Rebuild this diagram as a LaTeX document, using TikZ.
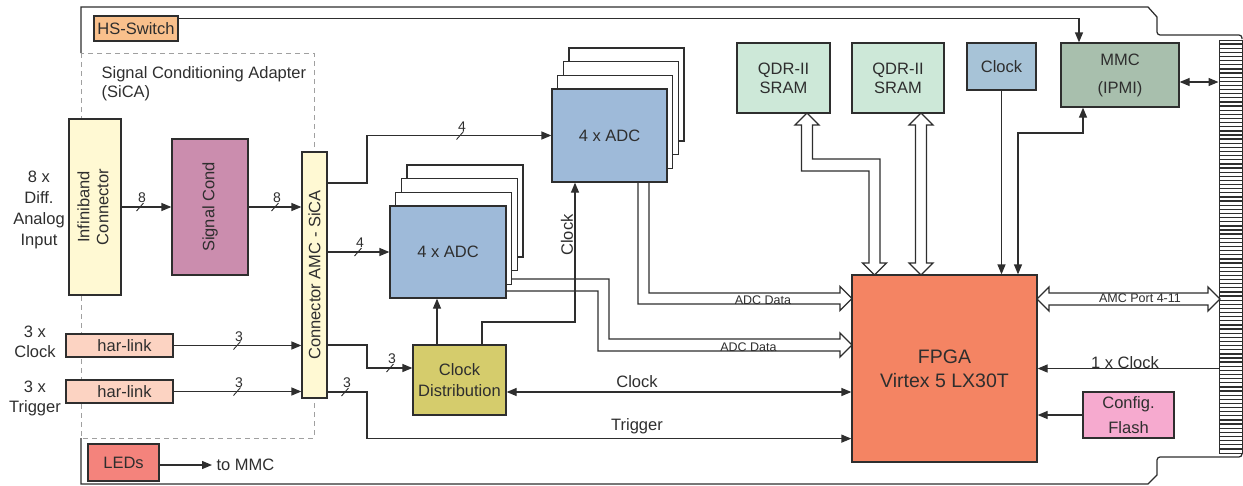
\documentclass[tikz,border=0pt]{standalone}
\usepackage{fontspec}
\usepackage{graphicx}
\setmainfont{Liberation Sans}
\usetikzlibrary{arrows.meta,calc}
\definecolor{ln}{HTML}{2E2E2E}
\definecolor{dashc}{HTML}{A0A0A0}
\definecolor{hsc}{HTML}{F9C08C}
\definecolor{infc}{HTML}{FFF9D3}
\definecolor{scc}{HTML}{CB8DAE}
\definecolor{harc}{HTML}{FCD3C2}
\definecolor{ledc}{HTML}{F4837C}
\definecolor{adcc}{HTML}{9EBAD9}
\definecolor{cdc}{HTML}{D5CC6C}
\definecolor{fpc}{HTML}{F48463}
\definecolor{qdrc}{HTML}{CDE8D8}
\definecolor{clkc}{HTML}{A7C3D7}
\definecolor{mmcc}{HTML}{A8BFAD}
\definecolor{cfgc}{HTML}{F6AACF}
\newcommand\FMain{\fontsize{16.5}{19}\selectfont}
\newcommand\FSmall{\fontsize{12.5}{15}\selectfont}
\newcommand\FBus{\fontsize{14}{16}\selectfont}
\newcommand\FBig{\fontsize{19.5}{24}\selectfont}
\newcommand\busmark[2]{%
  \draw[ln, line width=0.9pt] ($(#1)+(-3.5,4)$) -- ($(#1)+(3.5,-4)$);
  \node[small, font=\FBus] at ($(#1)+(2,-9)$) {#2};}
\tikzset{
  blk/.style={draw=ln, fill=#1, rectangle, inner sep=0pt, align=center, text=ln, font=\FMain},
  arr/.style={draw=ln, -{Triangle[length=10pt,width=8pt]}},
  darr/.style={draw=ln, {Triangle[length=10pt,width=8pt]}-{Triangle[length=10pt,width=8pt]}},
  hollow/.style={draw=ln, fill=white, line join=miter},
  lbl/.style={text=ln, font=\FMain, inner sep=0pt, align=center},
  small/.style={text=ln, font=\FSmall, inner sep=0pt},
}
\begin{document}
\begin{tikzpicture}[x=1pt,y=-1pt, line width=1.25pt]
\useasboundingbox (0,0) rectangle (1243,485);

% board outline
\draw[ln] (81,53) -- (81,7) -- (1148,7) -- (1157,17)
  [rounded corners=3pt] -- (1157,35) -- (1242,35) -- (1242,39);
\draw[ln] (81,438) -- (81,484) -- (1148,484) -- (1157,475)
  [rounded corners=3pt] -- (1157,457) -- (1242,457) -- (1242,453);
\draw[dashc, line width=1pt, dash pattern=on 5pt off 4pt] (81,53) rectangle (314,438);

% backplane connector strip
\node[draw=ln, fill=white, line width=1pt, minimum width=23pt, minimum height=413pt, inner sep=0pt] (strip) at (1230.5,246.5) {};
\foreach \i in {1,...,99}
  \draw[ln, line width=1.3pt] (1219,40+\i*4.13) -- (1242,40+\i*4.13);

% labels
\node[lbl, anchor=west, align=left] (sica) at (101,84) {Signal Conditioning Adapter\\(SiCA)};
\node[lbl, font=\fontsize{16.5}{21}\selectfont] (ain) at (39,209.5) {8 x\\Diff.\\Analog\\Input};
\node[lbl, font=\fontsize{16.5}{20}\selectfont] (clkin) at (35,342) {3 x\\Clock};
\node[lbl, font=\fontsize{16.5}{20}\selectfont] (trgin) at (35,398) {3 x\\Trigger};

% blocks
\node[blk={hsc}, minimum width=84pt, minimum height=25pt] (hs) at (136,28.5) {HS-Switch};
\node[blk={infc}, minimum width=52pt, minimum height=176pt] (inf) at (95,207)
  {\rotatebox{90}{\begin{tabular}{@{}c@{}}Infiniband\\Connector\end{tabular}}};
\node[blk={scc}, minimum width=76pt, minimum height=136pt] (sc) at (210,207) {\rotatebox{90}{Signal Cond}};
\node[blk={infc}, minimum width=25pt, minimum height=246pt] (con) at (314.5,275) {\rotatebox{90}{Connector AMC - SiCA}};
\node[blk={harc}, minimum width=107pt, minimum height=23pt] (har1) at (119.5,345.5) {\hspace{10pt}har-link};
\node[blk={harc}, minimum width=107pt, minimum height=23pt] (har2) at (119.5,391.5) {\hspace{10pt}har-link};
\node[blk={ledc}, minimum width=71pt, minimum height=37pt] (leds) at (123.5,462.5) {LEDs};
\node[lbl, anchor=west] (tommc) at (216,465) {to MMC};

\foreach \k in {3,2,1}
  \node[blk={white}, minimum width=116pt, minimum height=92pt] (adcA\k) at ($(448,252)+\k*(5.7,-13.7)$) {};
\node[blk={adcc}, minimum width=116pt, minimum height=92pt] (adcA) at (448,252) {4 x ADC};
\foreach \k in {3,2,1}
  \node[blk={white}, minimum width=115pt, minimum height=93pt] (adcB\k) at ($(609.5,135.5)+\k*(5.7,-13.7)$) {};
\node[blk={adcc}, minimum width=115pt, minimum height=93pt] (adcB) at (609.5,135.5) {4 x ADC};

\node[blk={cdc}, minimum width=93pt, minimum height=70pt, font=\fontsize{16.5}{21}\selectfont] (cd) at (459.5,380) {Clock\\Distribution};
\node[blk={fpc}, minimum width=185pt, minimum height=187pt, font=\FBig] (fpga) at (944.5,368.5) {FPGA\\Virtex 5 LX30T};
\node[blk={qdrc}, minimum width=93pt, minimum height=70pt] (qdr1) at (783.5,78) {QDR-II\\SRAM};
\node[blk={qdrc}, minimum width=92pt, minimum height=70pt] (qdr2) at (898,78) {QDR-II\\SRAM};
\node[blk={clkc}, minimum width=69pt, minimum height=47pt] (clk) at (1001.5,66.5) {Clock};
\node[blk={mmcc}, minimum width=118pt, minimum height=64pt, font=\fontsize{16.5}{28}\selectfont] (mmc) at (1120,75) {MMC\\(IPMI)};
\node[blk={cfgc}, minimum width=91pt, minimum height=46pt, font=\fontsize{16.5}{25}\selectfont] (cfg) at (1128.5,415) {Config.\\Flash};

% connectors, left part
\draw[arr] (inf) -- (sc);
\draw[arr] (sc) -- (sc.east -| con.west);
\draw[arr] (har1.east) -- (har1.east -| con.west);
\draw[arr] (har2.east) -- (har2.east -| con.west);
\draw[arr] (leds.east |- tommc.west) -- ($(tommc.west)+(-4,0)$);
\draw[arr] (con.east |- adcA.west) -- (adcA.west);
\coordinate (p1) at (367,183);
\coordinate (p2) at (367,345);
\coordinate (p3) at (367,392);
\draw[arr] (con.east |- p1) -- (p1) |- (adcB.west);
\draw[arr] (con.east |- p2) -- (p2) |- ($(cd.west)+(0,-12)$);
\draw[arr] (con.east |- p3) -- (p3) |- ($(fpga.south west)+(0,-24)$);
\node[lbl, anchor=base] (trg) at (637,430) {Trigger};

\coordinate (b1) at (140,207);
\coordinate (b2) at (275,207);
\coordinate (b3) at (237,345.5);
\coordinate (b4) at (237,391.5);
\coordinate (b5) at (358,252);
\coordinate (b6) at (460,135.5);
\coordinate (b7) at (390,368);
\coordinate (b8) at (345,392);
\busmark{b1}{8}
\busmark{b2}{8}
\busmark{b3}{3}
\busmark{b4}{3}
\busmark{b5}{4}
\busmark{b6}{4}
\busmark{b7}{3}
\busmark{b8}{3}

% clock distribution
\coordinate (c1) at ($(cd.north)+(-22.5,0)$);
\coordinate (c2) at ($(cd.north)+(22.5,0)$);
\coordinate (c3) at (575,322);
\draw[arr] (c1) -- (c1 |- adcA.south);
\draw[arr] (c2) |- (c3) -- (c3 |- adcB.south);
\node[lbl, rotate=90] (clkl) at (567,235) {Clock};
\coordinate (c4) at ($(cd.east)+(0,12)$);
\draw[darr] (c4) -- (c4 -| fpga.west);
\node[lbl, anchor=base] (clkt) at (637,387) {Clock};

% ADC data (hollow arrows)
\draw[hollow, fill=none] (638,182) -- (638,304) -- (840,304) -- (840,310.5) -- (852,298.5)
  -- (840,286.5) -- (840,293) -- (649,293) -- (649,182);
\draw[hollow, fill=none] (511.7,279) -- (609,279) -- (609,339) -- (840,339) -- (840,333) -- (852,345)
  -- (840,357) -- (840,351) -- (598,351) -- (598,291) -- (506,291);
\node[small, anchor=base] (ad1) at (763,304.5) {ADC Data};
\node[small, anchor=base] (ad2) at (748.5,351) {ADC Data};

% QDR hollow double arrows
\draw[hollow] (807,113) -- (819,125) -- (812.5,125) -- (812.5,159) -- (880,159) -- (880,263)
  -- (886.5,263) -- (874.5,275) -- (862.5,263) -- (869,263) -- (869,171) -- (801.5,171)
  -- (801.5,125) -- (795,125) -- cycle;
\draw[hollow] (921,113) -- (933,125) -- (926.5,125) -- (926.5,263) -- (933,263) -- (921,275)
  -- (909,263) -- (915.5,263) -- (915.5,125) -- (909,125) -- cycle;

% AMC port hollow double arrow
\draw[hollow] (1037,299) -- (1049,287) -- (1049,293) -- (1208,293) -- (1208,287) -- (1220,299)
  -- (1208,311) -- (1208,305) -- (1049,305) -- (1049,311) -- cycle;
\node[small, anchor=base] (amc) at (1140,302) {AMC Port 4-11};

% right part connectors
\draw[arr] (clk.south) -- (clk.south |- fpga.north);
\coordinate (m1) at (1018,133);
\coordinate (m2) at ($(mmc.south)+(-37,0)$);
\draw[darr] (m1 |- fpga.north) -- (m1) -| (m2);
\coordinate (h1) at ($(hs.north east)+(0,3)$);
\coordinate (h2) at ($(mmc.north)+(-41,0)$);
\draw[arr] (h1) -| (h2);
\coordinate (m3) at ($(mmc.east)+(0,7)$);
\draw[darr] (m3) -- (m3 -| strip.west);
\draw[arr] (strip.west |- fpga.east) -- (fpga.east);
\node[lbl, anchor=base] (oneclk) at (1125,368) {1 x Clock};
\draw[arr] (cfg.west) -- (cfg.west -| fpga.east);
\end{tikzpicture}
\end{document}
